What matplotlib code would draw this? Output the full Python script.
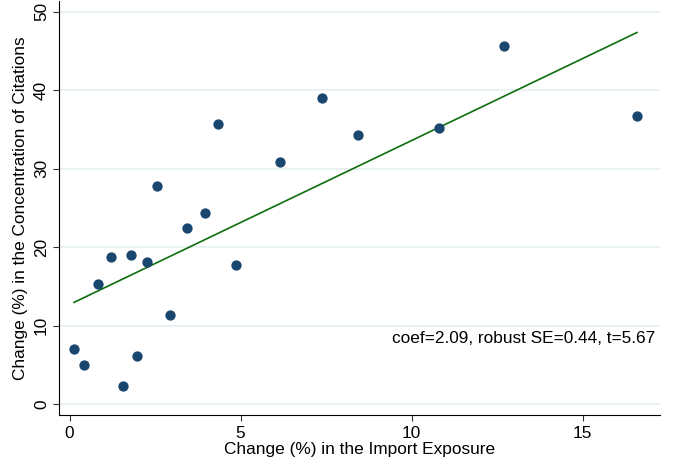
import numpy as np
import matplotlib.pyplot as plt

# change in import exposure (%) and change in citation concentration (%)
import_change = [0.13, 0.42, 0.83, 1.21, 1.56, 1.80, 1.97, 2.27, 2.56, 2.94,
                 3.42, 3.97, 4.35, 4.86, 6.15, 7.37, 8.44, 10.81, 12.71, 16.59]
citation_change = [7.0, 5.0, 15.3, 18.8, 2.3, 19.0, 6.1, 18.1, 27.8, 11.4,
                   22.4, 24.4, 35.7, 17.8, 30.9, 39.0, 34.3, 35.2, 45.6, 36.7]

# fitted line as reported
coef = 2.09
intercept = 12.7
stats_text = "coef=2.09, robust SE=0.44, t=5.67"

plt.rcParams['font.family'] = ['Liberation Sans', 'DejaVu Sans']

fig = plt.figure(figsize=(6.82, 4.68), dpi=100)
ax = fig.add_axes([0.087, 0.113, 0.881, 0.885])

ax.set_axisbelow(True)
ax.grid(axis='y', color='#e6eff1', linewidth=1.2)
ax.grid(axis='x', visible=False)

x = np.array(import_change)
xs = np.array([x.min(), x.max()])
ax.plot(xs, intercept + coef * xs, color='#0e6e0e', linewidth=1.2, zorder=2)
ax.scatter(import_change, citation_change, s=55, color='#1a476f', zorder=3, linewidths=0)

ax.text(0.992, 0.184, stats_text, transform=ax.transAxes, ha='right', va='center', fontsize=12.4)

ax.set_xlim(-0.3, 17.27)
ax.set_ylim(-1.4, 51.4)
ax.set_xticks([0, 5, 10, 15])
ax.set_yticks([0, 10, 20, 30, 40, 50])
for lab in ax.get_yticklabels():
    lab.set_rotation(90)
    lab.set_va('center')
ax.tick_params(labelsize=12.4, length=4, width=0.8, color='#333333')
ax.spines['right'].set_visible(False)
ax.spines['top'].set_visible(False)
ax.set_xlabel("Change (%) in the Import Exposure", fontsize=12.4, labelpad=1)
ax.set_ylabel("Change (%) in the Concentration of Citations", fontsize=12.4, labelpad=4)

fig.savefig("out.png", dpi=100)
